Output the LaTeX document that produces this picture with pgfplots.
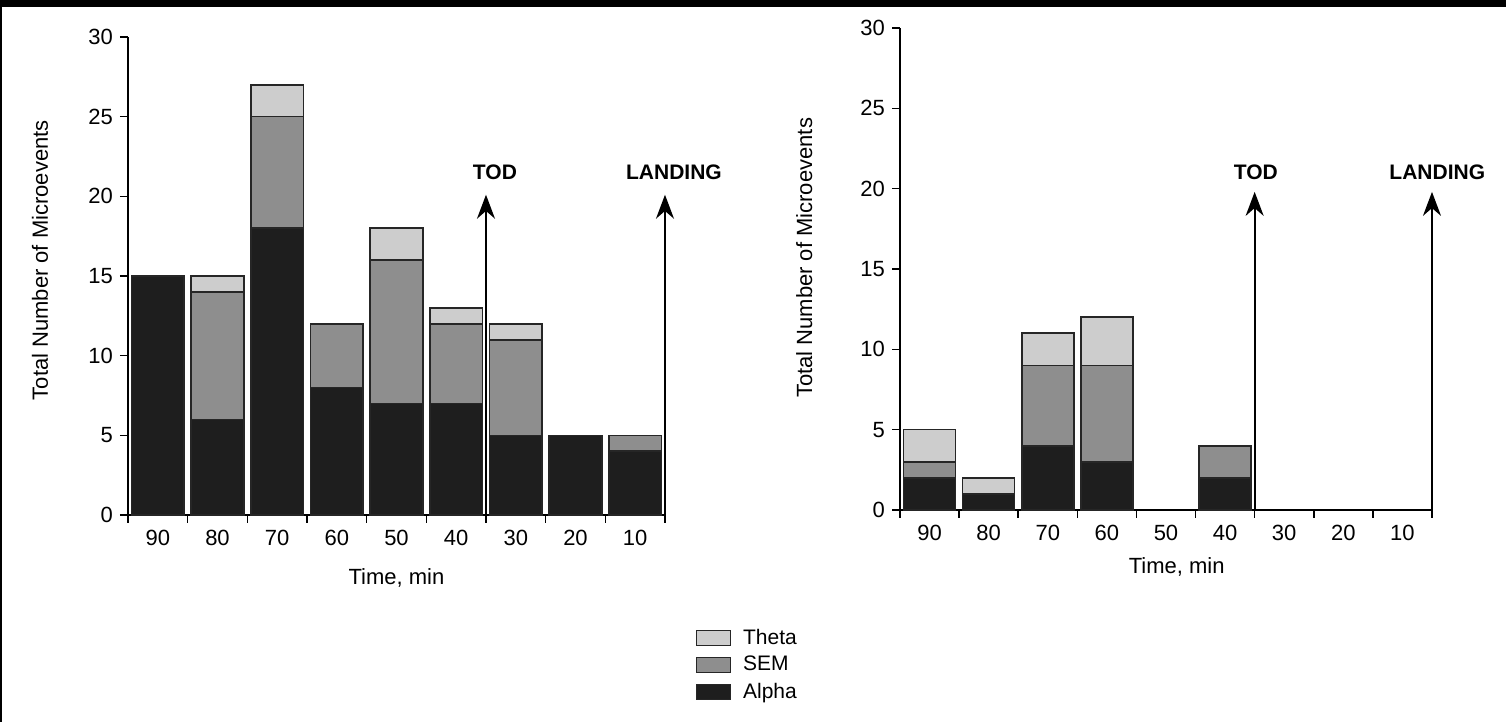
\documentclass[border=0pt]{standalone}
\usepackage{pgfplots}
\pgfplotsset{compat=1.18}
\usepackage{fontspec}
\setmainfont{Liberation Sans}
\usetikzlibrary{arrows.meta}

\definecolor{alphac}{HTML}{1E1E1E}
\definecolor{semc}{HTML}{8E8E8E}
\definecolor{thetac}{HTML}{CDCDCD}
\definecolor{barline}{HTML}{262626}

\pgfplotsset{
  micro/.style={
    scale only axis,
    ybar stacked,
    bar width=0.88,
    ymin=0, ymax=30,
    xmin=-0.5, xmax=8.5,
    axis lines*=left,
    clip=false,
    ytick={0,5,...,30},
    xtick={0,...,8},
    xticklabels={90,80,70,60,50,40,30,20,10},
    minor xtick={-0.5,0.5,...,8.5},
    major x tick style={draw=none},
    tick align=outside,
    major tick length=4pt,
    minor tick length=4pt,
    tick style={black, line width=0.8pt},
    axis line style={black, line width=0.8pt},
    /pgf/number format/assume math mode=true,
    ticklabel style={font=\fontsize{11}{13}\selectfont},
    label style={font=\fontsize{11}{13}\selectfont},
    xlabel={Time, min},
    ylabel={Total Number of Microevents},
  },
  seg/.style={fill=#1, draw=barline, line width=0.8pt},
}

\begin{document}
\begin{tikzpicture}
\useasboundingbox (0,0) rectangle (753pt,361pt);

% left panel
\begin{axis}[micro,
  at={(64pt,103.5pt)}, anchor=south west,
  width=268.5pt, height=239pt,
  xlabel style={at={(axis description cs:0.5,-0.132)}, anchor=center},
  ylabel style={at={(axis description cs:-0.164,0.533)}, anchor=center},
  reverse legend,
  legend style={at={(axis description cs:1.045,-0.225)}, anchor=north west,
    draw=none, fill=none, font=\fontsize{10.5}{12}\selectfont,
    row sep=2.5pt, column sep=5pt, nodes={inner sep=1pt}},
  legend image code/.code={\draw[#1] (0pt,-3.8pt) rectangle (17pt,3.8pt);},
  legend cell align=left,
]
\addplot[seg=alphac] coordinates {(0,15) (1,6) (2,18) (3,8) (4,7) (5,7) (6,5) (7,5) (8,4)};
\addlegendentry{Alpha}
\addplot[seg=semc] coordinates {(0,0) (1,8) (2,7) (3,4) (4,9) (5,5) (6,6) (7,0) (8,1)};
\addlegendentry{SEM}
\addplot[seg=thetac] coordinates {(0,0) (1,1) (2,2) (3,0) (4,2) (5,1) (6,1) (7,0) (8,0)};
\addlegendentry{Theta}

\draw[line width=0.9pt, -{Stealth[length=12pt,width=9pt]}] (axis cs:5.5,0) -- (axis cs:5.5,20.1);
\draw[line width=0.9pt, -{Stealth[length=12pt,width=9pt]}] (axis cs:8.5,0) -- (axis cs:8.5,20.1);
\node[font=\fontsize{10.5}{12}\selectfont\bfseries] at (axis cs:5.65,21.5) {TOD};
\node[font=\fontsize{10.5}{12}\selectfont\bfseries] at (axis cs:8.65,21.5) {LANDING};
\end{axis}

% right panel
\begin{axis}[micro,
  at={(450pt,106pt)}, anchor=south west,
  width=266pt, height=241pt,
  xlabel style={at={(axis description cs:0.52,-0.118)}, anchor=center},
  ylabel style={at={(axis description cs:-0.180,0.523)}, anchor=center},
]
\addplot[seg=alphac] coordinates {(0,2) (1,1) (2,4) (3,3) (4,0) (5,2) (6,0) (7,0) (8,0)};
\addplot[seg=semc] coordinates {(0,1) (1,0) (2,5) (3,6) (4,0) (5,2) (6,0) (7,0) (8,0)};
\addplot[seg=thetac] coordinates {(0,2) (1,1) (2,2) (3,3) (4,0) (5,0) (6,0) (7,0) (8,0)};

\draw[line width=0.9pt, -{Stealth[length=12pt,width=9pt]}] (axis cs:5.5,0) -- (axis cs:5.5,19.8);
\draw[line width=0.9pt, -{Stealth[length=12pt,width=9pt]}] (axis cs:8.5,0) -- (axis cs:8.5,19.8);
\node[font=\fontsize{10.5}{12}\selectfont\bfseries] at (axis cs:5.52,21.0) {TOD};
\node[font=\fontsize{10.5}{12}\selectfont\bfseries] at (axis cs:8.59,21.0) {LANDING};
\end{axis}

% scanner edge
\fill[black] (0,357.5pt) rectangle (753pt,361pt);
\fill[black] (0,0) rectangle (1.2pt,361pt);
\end{tikzpicture}
\end{document}
